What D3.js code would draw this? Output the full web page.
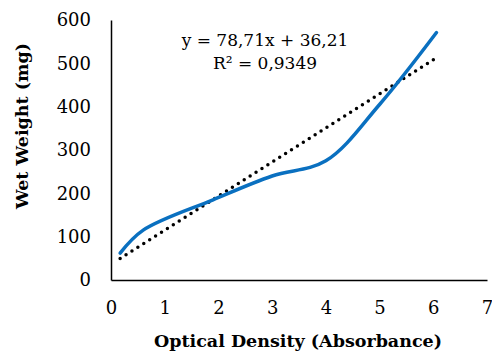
<!DOCTYPE html>
<html>
<head>
<meta charset="utf-8">
<script src="https://cdn.jsdelivr.net/npm/d3@7"></script>
<style>
  body { margin: 0; background: #fff; }
  svg { display: block; }
</style>
</head>
<body>
<svg id="chart" width="492" height="356"></svg>
<script>
// данные
const odValues = [0.17, 0.6, 1.9, 3.0, 4.0, 5.0, 6.06];
const weightValues = [62, 115, 185, 240, 275, 405, 571];
const xTicks = [0, 1, 2, 3, 4, 5, 6, 7];
const yTicks = [0, 100, 200, 300, 400, 500, 600];
const trendSlope = 78.71;
const trendIntercept = 36.21;
const eqLines = ["y = 78,71x + 36,21", "R² = 0,9349"];

const area = { left: 111, right: 487, top: 20, bottom: 280 };
const serif = "'DejaVu Serif', serif";

const svg = d3.select("#chart");

const scaleX = d3.scaleLinear().domain([0, 7]).range([area.left, area.right]);
const scaleY = d3.scaleLinear().domain([0, 600]).range([area.bottom, area.top]);

// оси без засечек
svg.append("g")
    .attr("transform", `translate(0, ${area.bottom})`)
    .call(d3.axisBottom(scaleX).tickValues(xTicks).tickFormat(d3.format("d")).tickSize(0).tickPadding(21))
    .call(g => g.select(".domain").attr("stroke", "#000").attr("stroke-width", 1.5))
    .selectAll("text")
    .attr("font-family", serif)
    .attr("font-size", 18)
    .attr("fill", "#000");

svg.append("g")
    .attr("transform", `translate(${area.left}, 0)`)
    .call(d3.axisLeft(scaleY).tickValues(yTicks).tickFormat(d3.format("d")).tickSize(0).tickPadding(20))
    .call(g => g.select(".domain").attr("stroke", "#000").attr("stroke-width", 1.5))
    .selectAll("text")
    .attr("font-family", serif)
    .attr("font-size", 18)
    .attr("fill", "#000");

// линия тренда
const x0 = d3.min(odValues), x1 = d3.max(odValues);
const trend = [x0, x1].map(x => ({ x, y: trendSlope * x + trendIntercept }));

svg.append("path")
    .datum(trend)
    .attr("fill", "none")
    .attr("stroke", "#000")
    .attr("stroke-width", 3.5)
    .attr("stroke-linecap", "round")
    .attr("stroke-dasharray", "0 7")
    .attr("d", d3.line().x(d => scaleX(d.x)).y(d => scaleY(d.y)));

// сглаженная линия данных
const points = odValues.map((x, i) => ({ x, y: weightValues[i] }));
svg.append("path")
    .datum(points)
    .attr("fill", "none")
    .attr("stroke", "#0a70c0")
    .attr("stroke-width", 3.5)
    .attr("stroke-linecap", "round")
    .attr("d", d3.line()
        .x(d => scaleX(d.x))
        .y(d => scaleY(d.y))
        .curve(d3.curveCatmullRom.alpha(0.5)));

// уравнение
svg.append("text")
    .attr("x", 265).attr("y", 46)
    .attr("text-anchor", "middle")
    .attr("font-family", serif).attr("font-size", 17)
    .text(eqLines[0]);
svg.append("text")
    .attr("x", 265).attr("y", 69)
    .attr("text-anchor", "middle")
    .attr("font-family", serif).attr("font-size", 17)
    .text(eqLines[1]);

// подписи осей
svg.append("text")
    .attr("x", 298).attr("y", 347)
    .attr("text-anchor", "middle")
    .attr("font-family", serif).attr("font-size", 17.5).attr("font-weight", "bold")
    .text("Optical Density (Absorbance)");

svg.append("text")
    .attr("transform", "translate(28, 126) rotate(-90)")
    .attr("text-anchor", "middle")
    .attr("font-family", serif).attr("font-size", 17.5).attr("font-weight", "bold")
    .text("Wet Weight (mg)");
</script>
</body>
</html>
